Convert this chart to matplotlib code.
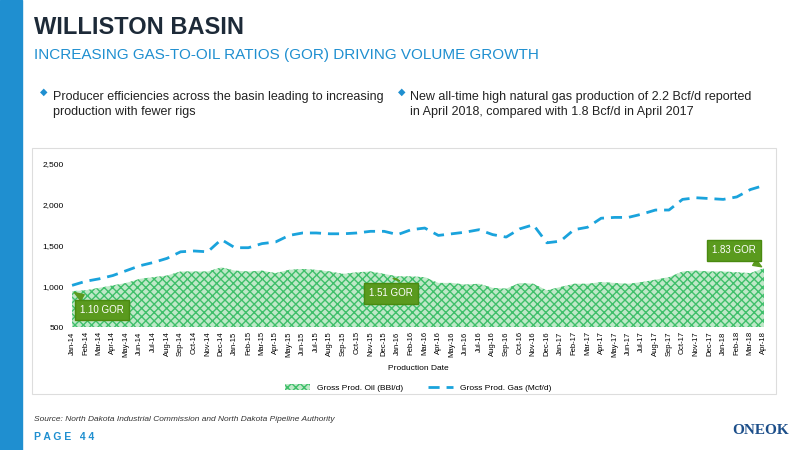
import numpy as np
import matplotlib.pyplot as plt
from matplotlib.patches import Rectangle

plt.rcParams['font.family'] = ['Liberation Sans', 'DejaVu Sans']

months = ['Jan', 'Feb', 'Mar', 'Apr', 'May', 'Jun', 'Jul', 'Aug', 'Sep', 'Oct', 'Nov', 'Dec']
labels = [f'{m}-{y}' for y in ['14', '15', '16', '17'] for m in months] + \
         [f'{m}-18' for m in months[:4]]

gas = [1010, 1060, 1090, 1130, 1190, 1250, 1290, 1340, 1420, 1430, 1420, 1570,
       1470, 1470, 1520, 1540, 1620, 1650, 1650, 1640, 1640, 1650, 1670, 1670,
       1630, 1690, 1710, 1620, 1640, 1660, 1690, 1630, 1600, 1700, 1750, 1530,
       1550, 1690, 1720, 1830, 1840, 1840, 1880, 1930, 1930, 2060, 2080, 2070,
       2060, 2090, 2180, 2230]
oil = [940, 950, 980, 1010, 1040, 1090, 1110, 1130, 1180, 1180, 1180, 1230,
       1190, 1180, 1190, 1160, 1200, 1210, 1200, 1180, 1150, 1170, 1180, 1150,
       1120, 1120, 1110, 1040, 1040, 1020, 1030, 980, 970, 1040, 1030, 950,
       990, 1030, 1030, 1050, 1040, 1030, 1050, 1080, 1110, 1180, 1190, 1180,
       1180, 1170, 1160, 1220]
gor_notes = [(0, '1.10 GOR'), (24, '1.51 GOR'), (51, '1.83 GOR')]

x = np.arange(len(labels))
blue = '#1aa3dc'
dgreen = '#5a9a1e'

fig = plt.figure(figsize=(8, 4.5), dpi=100)
fig.patches.append(Rectangle((0, 0), 0.028, 1, transform=fig.transFigure, color='#1f8fd0'))
fig.text(0.042, 0.925, 'WILLISTON BASIN', fontsize=17, fontweight='bold', color='#1d2a38')
fig.text(0.042, 0.87, 'INCREASING GAS-TO-OIL RATIOS (GOR) DRIVING VOLUME GROWTH',
         fontsize=11, color='#1f8fd0')
fig.text(0.05, 0.79, '◆', fontsize=7, color='#1f8fd0', family='DejaVu Sans')
fig.text(0.066, 0.745, 'Producer efficiencies across the basin leading to increasing\nproduction with fewer rigs',
         fontsize=9, color='#222222', linespacing=1.3)
fig.text(0.497, 0.79, '◆', fontsize=7, color='#1f8fd0', family='DejaVu Sans')
fig.text(0.513, 0.745, 'New all-time high natural gas production of 2.2 Bcf/d reported\nin April 2018, compared with 1.8 Bcf/d in April 2017',
         fontsize=9, color='#222222', linespacing=1.3)
fig.patches.append(Rectangle((0.04, 0.125), 0.93, 0.545, transform=fig.transFigure,
                             fill=False, edgecolor='#dddddd', lw=0.8))
fig.text(0.042, 0.065, 'Source: North Dakota Industrial Commission and North Dakota Pipeline Authority',
         fontsize=6, style='italic', color='#333333')
fig.text(0.042, 0.022, 'P A G E   4 4', fontsize=7.5, color='#1f8fd0', fontweight='bold')
fig.text(0.915, 0.035, 'ONEOK', fontsize=11, fontweight='bold', color='#1d4f8a', family='Liberation Serif')

ax = fig.add_axes([0.085, 0.273, 0.875, 0.364])
ax.fill_between(x, 500, oil, facecolor='#bfe8c8', edgecolor='#3fbf6a', hatch='xxxx', lw=0,
                label='Gross Prod. Oil (BBl/d)')
ax.plot(x, gas, color=blue, lw=2, dashes=(4, 2.5), label='Gross Prod. Gas (Mcf/d)')
ax.set_xlim(-0.3, len(x) - 0.7)
ax.set_ylim(500, 2500)
ax.set_yticks([500, 1000, 1500, 2000, 2500])
ax.set_yticklabels(['500', '1,000', '1,500', '2,000', '2,500'], fontsize=6)
ax.set_xticks(x)
ax.set_xticklabels(labels, rotation=90, fontsize=5.5)
ax.tick_params(length=0, pad=3)
for s in ax.spines.values():
    s.set_visible(False)
ax.set_xlabel('Production Date', fontsize=6, labelpad=6)
ax.legend(loc='upper center', bbox_to_anchor=(0.5, -0.3), ncol=2, frameon=False, fontsize=6,
          handlelength=3, columnspacing=3)

# callouts
offs = {0: (2.2, 710), 24: (-0.5, 915), 51: (-2.2, 1440)}
for i, txt in gor_notes:
    tx, ty = i + offs[i][0], offs[i][1]
    ax.annotate(txt, xy=(i, oil[i]), xytext=(tx, ty), fontsize=7, color='white',
                ha='center', va='center',
                bbox=dict(boxstyle='square,pad=0.55', fc=dgreen, ec='#4a8a10'),
                arrowprops=dict(arrowstyle='wedge,tail_width=0.7', fc=dgreen, ec=dgreen))

fig.savefig('out.png', dpi=100)
